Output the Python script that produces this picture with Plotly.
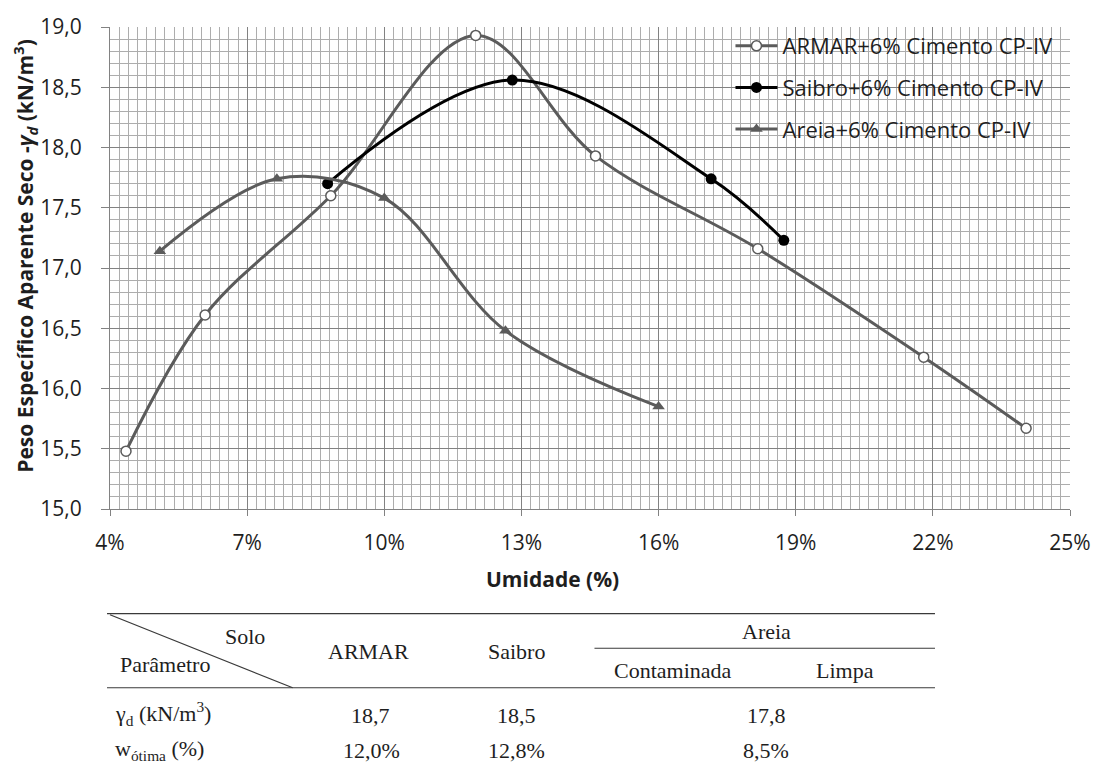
import plotly.graph_objects as go

# ---------------- data ----------------
armar_x = [4.35, 6.08, 8.83, 12.0, 14.62, 18.17, 21.8, 24.04]
armar_y = [15.48, 16.61, 17.60, 18.93, 17.93, 17.16, 16.26, 15.67]

saibro_x = [8.76, 12.8, 17.15, 18.74]
saibro_y = [17.70, 18.56, 17.74, 17.23]

areia_x = [5.09, 7.65, 10.0, 12.65, 16.0]
areia_y = [17.14, 17.74, 17.58, 16.48, 15.85]

series_names = ["ARMAR+6% Cimento CP-IV", "Saibro+6% Cimento CP-IV", "Areia+6% Cimento CP-IV"]

table_header = ["ARMAR", "Saibro", "Areia", "Contaminada", "Limpa"]
row_labels = ["γ<sub>d</sub> (kN/m<sup>3</sup>)", "w<sub>ótima</sub> (%)"]
row_gamma = ["18,7", "18,5", "17,8"]
row_w = ["12,0%", "12,8%", "8,5%"]

# ---------------- layout helpers (pixel -> paper) ----------------
W, H = 1103, 772
L, R, T, B = 110, 1077, 21, 509


def px(x):
    return (x - L) / (R - L)


def py(y):
    return (B - y) / (B - T)


gray = "#5b5b5b"
txt = "#1e1e1e"
FONT = "Open Sans"

fig = go.Figure()
fig.add_trace(go.Scatter(
    x=armar_x, y=armar_y, mode="lines+markers", name=series_names[0], legendgroup="a",
    line=dict(color=gray, width=3, shape="spline", smoothing=1),
    marker=dict(symbol="circle", size=10, color="white", line=dict(color=gray, width=1.5)),
))
fig.add_trace(go.Scatter(
    x=saibro_x, y=saibro_y, mode="lines+markers", name=series_names[1], legendgroup="b",
    line=dict(color="#000000", width=3, shape="spline", smoothing=1),
    marker=dict(symbol="circle", size=11, color="#000000"),
))
fig.add_trace(go.Scatter(
    x=areia_x, y=areia_y, mode="lines+markers", name=series_names[2], legendgroup="c",
    line=dict(color=gray, width=3, shape="spline", smoothing=1),
    marker=dict(symbol="triangle-up", size=11, color=gray),
))

shapes = []
# white legend area covering grid
shapes.append(dict(type="rect", xref="paper", yref="paper", layer="between",
                   x0=px(710), x1=1.003, y0=py(150), y1=py(21.8),
                   fillcolor="white", line=dict(width=0)))

# table lines
line_c = "#3a3a3a"
shapes += [
    dict(type="line", xref="paper", yref="paper", x0=px(107), x1=px(941), y0=py(615), y1=py(615),
         line=dict(color=line_c, width=1.2)),
    dict(type="line", xref="paper", yref="paper", x0=px(598), x1=px(941), y0=py(650), y1=py(650),
         line=dict(color=line_c, width=1.2)),
    dict(type="line", xref="paper", yref="paper", x0=px(107), x1=px(941), y0=py(690), y1=py(690),
         line=dict(color=line_c, width=1.2)),
    dict(type="line", xref="paper", yref="paper", x0=px(110), x1=px(294), y0=py(616), y1=py(690),
         line=dict(color=line_c, width=1.2)),
]

ann = []
# axis titles
ann.append(dict(text="<b>Umidade (%)</b>", xref="paper", yref="paper", x=px(556), y=py(580),
                xanchor="center", yanchor="middle",
                showarrow=False, font=dict(family=FONT, size=21, color=txt)))
ann.append(dict(text="<b>Peso Específico Aparente Seco -<i>γ<sub>d</sub></i> (kN/m<sup>3</sup>)</b>",
                xref="paper", yref="paper", x=px(24), y=py(253), textangle=-90,
                xanchor="center", yanchor="middle",
                showarrow=False, font=dict(family=FONT, size=21, color=txt)))

tf = dict(family="Liberation Serif", size=22, color=txt)


def cell(text, x, y):
    ann.append(dict(text=text, xref="paper", yref="paper", x=px(x), y=py(y),
                    xanchor="center", yanchor="middle",
                    showarrow=False, font=dict(tf)))


cell("Solo", 246, 638)
cell("Parâmetro", 165, 666)
cell(table_header[0], 370, 653)
cell(table_header[1], 519, 653)
cell(table_header[2], 771, 633)
cell(table_header[3], 677, 673)
cell(table_header[4], 850, 673)
cell(row_labels[0], 163, 716)
cell(row_labels[1], 160, 753)
for v, x in zip(row_gamma, [372, 519, 771]):
    cell(v, x, 718)
for v, x in zip(row_w, [373, 519, 771]):
    cell(v, x, 754)

fig.update_layout(
    width=W, height=H, autosize=False,
    margin=dict(l=L, r=W - R, t=T, b=H - B, pad=0),
    paper_bgcolor="white", plot_bgcolor="white",
    separators=",.",
    font=dict(family=FONT, color=txt),
    showlegend=True,
    legend=dict(x=px(735), y=py(19), xanchor="left", yanchor="top",
                bgcolor="rgba(0,0,0,0)", font=dict(family=FONT, size=22, color=txt),
                tracegroupgap=10, itemwidth=42),
    shapes=shapes,
    annotations=ann,
)

fig.update_xaxes(
    range=[4, 25], tick0=4, dtick=3, ticksuffix="%",
    showgrid=True, gridcolor="#828282", gridwidth=1,
    minor=dict(tick0=4, dtick=0.2, showgrid=True, gridcolor="#adadad", gridwidth=1),
    ticks="outside", ticklen=6, tickcolor="#828282",
    showline=True, linecolor="#828282", linewidth=1, zeroline=False,
    tickfont=dict(family=FONT, size=21, color=txt), ticklabelstandoff=9,
)
fig.update_yaxes(
    range=[15, 19], tick0=15, dtick=0.5, tickformat=".1f",
    showgrid=True, gridcolor="#828282", gridwidth=1,
    minor=dict(tick0=15, dtick=0.1, showgrid=True, gridcolor="#adadad", gridwidth=1),
    ticks="outside", ticklen=8, tickcolor="#828282",
    showline=True, linecolor="#828282", linewidth=1, zeroline=False,
    tickfont=dict(family=FONT, size=21, color=txt), ticklabelstandoff=15,
)

fig.write_html("out.html", config={"displayModeBar": False},
               post_script="document.body.style.margin='0';")
